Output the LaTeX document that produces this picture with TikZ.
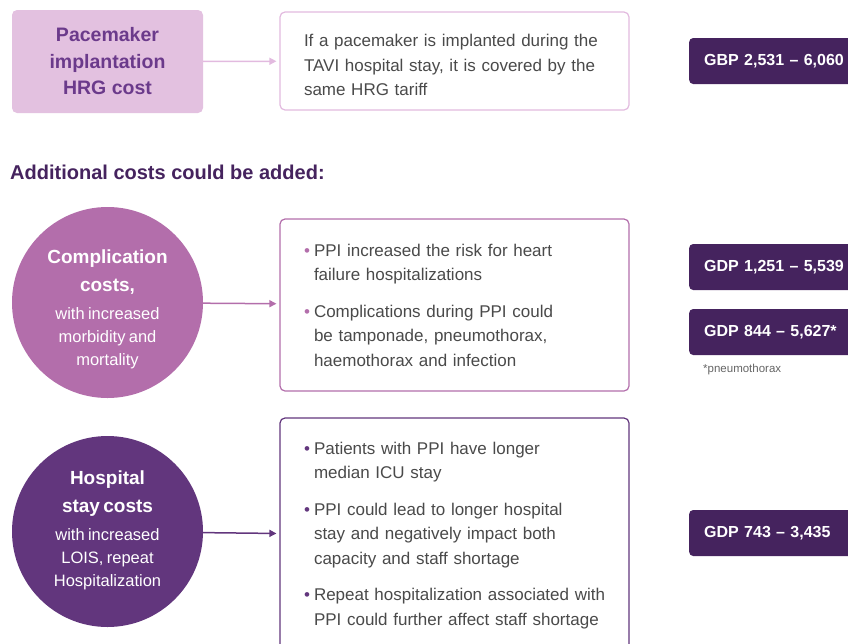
\documentclass[tikz,border=0pt]{standalone}
\usepackage{fontspec}
\setmainfont{Liberation Sans}
\usetikzlibrary{positioning, arrows.meta}

\definecolor{pinkfill}{HTML}{E3C1E0}
\definecolor{pinkline}{HTML}{E2BADF}
\definecolor{plumtext}{HTML}{6B3A8B}
\definecolor{compl}{HTML}{B36EAB}
\definecolor{hosp}{HTML}{62367D}
\definecolor{badgecol}{HTML}{45235E}
\definecolor{bodytext}{HTML}{4A4A4A}

\newcommand{\bul}[1]{\makebox[10pt][l]{\textcolor{#1}{\textbullet}}}
\newcommand{\oneline}[1]{\mbox{#1}}
\newcommand{\ind}{\hspace*{10pt}}
\newcommand{\headfont}{\fontsize{19}{28}\selectfont\bfseries}
\newcommand{\subfont}{\fontsize{16.5}{23}\selectfont\mdseries}

\begin{document}
\begin{tikzpicture}[x=1pt, y=-1pt, ->, >={Triangle[length=7pt, width=7pt]},
    infobox/.style={draw, line width=1.2pt, rounded corners=5pt, fill=white, text=bodytext,
        text width=301pt, inner xsep=24pt, align=left, font=\fontsize{17}{24.5}\selectfont},
    costcircle/.style={circle, minimum size=191pt, inner sep=0pt},
    circletext/.style={text=white, text width=170pt, align=center, inner sep=0pt},
    badge/.style={anchor=west, fill=badgecol, rounded corners=4pt, minimum height=46pt,
        text width=150pt, inner xsep=15pt, align=left, text=white,
        font=\fontsize{16}{16}\selectfont\bfseries},
    link/.style={line width=1.5pt, shorten >=3pt}]
    \useasboundingbox (0,0) rectangle (848,643);
    \clip (0,0) rectangle (848,643);

    % top row
    \node (pace) [fill=pinkfill, rounded corners=5pt, minimum width=191pt, minimum height=103pt,
        text=plumtext, align=center, font=\fontsize{19.5}{26.5}\selectfont\bfseries]
        at (107.5,61.5) {Pacemaker\\implantation\\HRG cost};
    \node (tavi) [infobox, draw=pinkline, minimum height=98pt] at (454.5,61)
        {\rule{0pt}{21pt}\oneline{If a pacemaker is implanted during the}\\\oneline{TAVI hospital stay, it is covered by the}\\same HRG tariff};
    \node (gbp) [badge] at (689,61) {GBP 2,531 – 6,060};

    \node (added) [anchor=west, inner sep=0pt, text=badgecol, font=\fontsize{20}{20}\selectfont\bfseries]
        at (10,172) {Additional costs could be added:};

    % complication costs
    \node (complc) [costcircle, fill=compl] at (107.5,302.5) {};
    \node (complt) [circletext] at (107.5,309.5)
        {\headfont Complication\\costs,\par\vspace{5pt}\subfont with increased\\morbidity and\\mortality\par};
    \node (compld) [infobox, draw=compl, minimum height=172pt] at (454.5,305)
        {\bul{compl}\oneline{PPI increased the risk for heart}\\\ind failure hospitalizations\\[12pt]
         \bul{compl}\oneline{Complications during PPI could}\\\ind \oneline{be tamponade, pneumothorax,}\\\ind \oneline{haemothorax and infection}};
    \node (gdpa) [badge] at (689,267) {GDP 1,251 – 5,539};
    \node (gdpb) [badge] at (689,332) {GDP 844 – 5,627*};
    \node (pneu) [below=9pt of gdpb.south west, anchor=north west, inner sep=0pt, xshift=14pt,
        text=bodytext!85, font=\fontsize{11.5}{12}\selectfont] {*pneumothorax};

    % hospital stay costs
    \node (hospc) [costcircle, fill=hosp] at (107.5,531.5) {};
    \node (hospt) [circletext] at (107.5,530.5)
        {\headfont Hospital\\stay costs\par\vspace{5pt}\subfont with increased\\LOIS, repeat\\Hospitalization\par};
    \node (hospd) [infobox, draw=hosp, minimum height=235pt] at (454.5,535.5)
        {\bul{hosp}\oneline{Patients with PPI have longer}\\\ind median ICU stay\\[12pt]
         \bul{hosp}\oneline{PPI could lead to longer hospital}\\\ind \oneline{stay and negatively impact both}\\\ind \oneline{capacity and staff shortage}\\[12pt]
         \bul{hosp}\oneline{Repeat hospitalization associated with}\\\ind \oneline{PPI could further affect staff shortage}};
    \node (gdpc) [badge] at (689,533) {GDP 743 – 3,435};

    \draw[link, pinkline] (pace) -- (tavi);
    \draw[link, compl] (complc) -- (compld);
    \draw[link, hosp] (hospc) -- (hospd);
\end{tikzpicture}
\end{document}
